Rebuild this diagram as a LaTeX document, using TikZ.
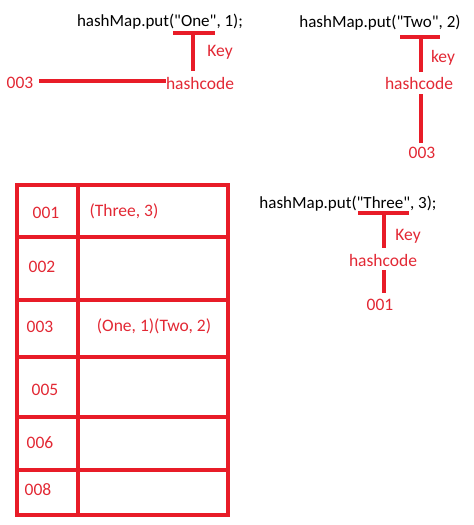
\documentclass[tikz,border=0pt]{standalone}
\usepackage{fontspec}
\setmainfont{Carlito}[Ligatures=TeXOff]
\definecolor{hred}{RGB}{232,28,40}
\definecolor{tred}{RGB}{226,40,52}
\tikzset{
  code/.style={inner sep=0pt, text=black, font=\fontsize{17}{19}\selectfont},
  lbl/.style={inner sep=0pt, text=tred, font=\fontsize{17.5}{19}\selectfont},
  bar/.style={draw=hred, line width=4pt},
  grid/.style={draw=hred, line width=4pt}
}
\begin{document}
\begin{tikzpicture}[x=1pt,y=-1pt]
\useasboundingbox (0,0) rectangle (474,525);
% --- put One ---
\node[code] (put1) at (160,22) {hashMap.put("One", 1);};
\coordinate (u1a) at (173,33); \coordinate (u1b) at (215,33);
\coordinate (u1m) at (193,33); \coordinate (u1e) at (193,71);
\node[lbl] (key1) at (220,52) {Key};
\node[lbl] (hc1) at (200,83) {hashcode};
\node[lbl] (h003a) at (20,83) {003};
\draw[bar] (u1a) -- (u1b);
\draw[bar] (u1m) -- (u1e);
\coordinate (l1a) at (39,81);
\draw[bar] (l1a) -- (hc1.west |- l1a);
% --- put Two ---
\node[code] (put2) at (380,23) {hashMap.put("Two", 2)};
\coordinate (u2a) at (400,37); \coordinate (u2b) at (440,37);
\coordinate (u2m) at (421,37); \coordinate (u2e) at (421,72);
\node[lbl] (key2) at (443,58) {key};
\node[lbl] (hc2) at (419,83) {hashcode};
\coordinate (v2a) at (421,94); \coordinate (v2b) at (421,143);
\node[lbl] (h003b) at (422,153) {003};
\draw[bar] (u2a) -- (u2b);
\draw[bar] (u2m) -- (u2e);
\draw[bar] (v2a) -- (v2b);
% --- put Three ---
\node[code] (put3) at (348,204) {hashMap.put("Three", 3);};
\coordinate (u3a) at (358,213); \coordinate (u3b) at (409,213);
\coordinate (u3m) at (384,213); \coordinate (u3e) at (384,248);
\node[lbl] (key3) at (408,236) {Key};
\node[lbl] (hc3) at (383,260) {hashcode};
\coordinate (v3a) at (384,270); \coordinate (v3b) at (384,293);
\node[lbl] (h001) at (380,305) {001};
\draw[bar] (u3a) -- (u3b);
\draw[bar] (u3m) -- (u3e);
\draw[bar] (v3a) -- (v3b);
% --- table ---
\draw[grid] (17,185) rectangle (228,515);
\draw[grid] (78,185) -- (78,515);
\foreach \yy in {237,300,357,417,470}{\draw[grid] (17,\yy) -- (228,\yy);}
\node[lbl] (r1) at (46,213) {001};
\node[lbl] (r2) at (42,267) {002};
\node[lbl] (r3) at (40,327) {003};
\node[lbl] (r5) at (45,390) {005};
\node[lbl] (r6) at (40,443) {006};
\node[lbl] (r8) at (38,490) {008};
\node[lbl] (c1) at (124,211) {(Three, 3)};
\node[lbl] (c3) at (154,326) {(One, 1)(Two, 2)};
\end{tikzpicture}
\end{document}
